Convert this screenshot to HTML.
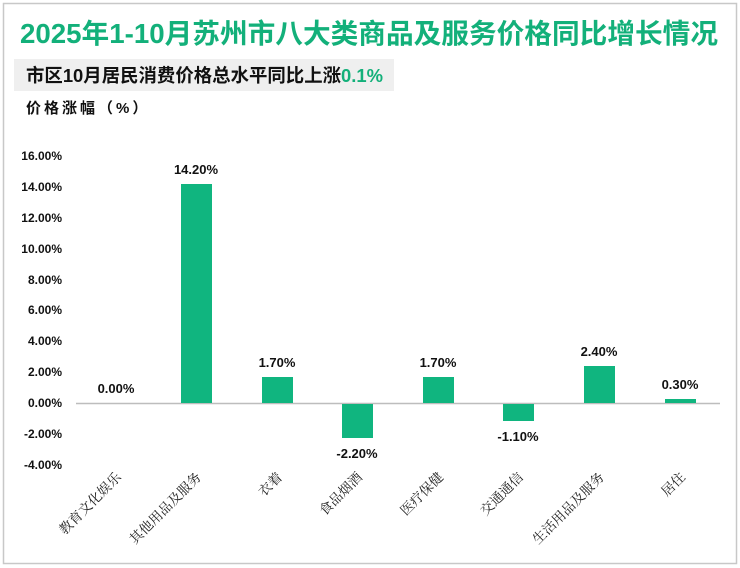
<!DOCTYPE html>
<html><head><meta charset="utf-8"><style>
body{margin:0;background:#fff;}
svg{display:block;font-family:"Liberation Sans","Noto Sans CJK SC",sans-serif;}
</style></head><body>
<svg width="740" height="568" viewBox="0 0 740 568">
<rect x="3.5" y="3.5" width="733" height="560" fill="#fff" stroke="#c8c8c8" stroke-width="1.5"/>
<text x="369" y="43" text-anchor="middle" font-size="27.5" font-weight="bold" fill="#13b07a" textLength="698" lengthAdjust="spacingAndGlyphs">2025年1-10月苏州市八大类商品及服务价格同比增长情况</text>
<rect x="14" y="59" width="380" height="32" fill="#efefef"/>
<text x="26" y="82" font-size="18.5" font-weight="bold" fill="#111" textLength="357" lengthAdjust="spacingAndGlyphs">市区10月居民消费价格总水平同比上涨<tspan fill="#13b07a">0.1%</tspan></text>
<text x="26" y="113" font-size="15" font-weight="bold" fill="#111" letter-spacing="3">价格涨幅（%）</text>
<g font-size="12" font-weight="bold" fill="#111" text-anchor="end">
<text x="62" y="160">16.00%</text>
<text x="62" y="191">14.00%</text>
<text x="62" y="222">12.00%</text>
<text x="62" y="253">10.00%</text>
<text x="62" y="284">8.00%</text>
<text x="62" y="314">6.00%</text>
<text x="62" y="345">4.00%</text>
<text x="62" y="376">2.00%</text>
<text x="62" y="407">0.00%</text>
<text x="62" y="438">-2.00%</text>
<text x="62" y="469">-4.00%</text>
</g>
<line x1="76" y1="403.5" x2="720" y2="403.5" stroke="#bdbdbd" stroke-width="1.5"/>
<g fill="#10b57f">
<rect x="181" y="184" width="31" height="219"/>
<rect x="262" y="377" width="31" height="26"/>
<rect x="342" y="404" width="31" height="34"/>
<rect x="423" y="377" width="31" height="26"/>
<rect x="503" y="404" width="31" height="17"/>
<rect x="584" y="366" width="31" height="37"/>
<rect x="665" y="399" width="31" height="4"/>
</g>
<g font-size="13" font-weight="bold" fill="#111" text-anchor="middle">
<text x="116" y="393">0.00%</text>
<text x="196" y="174">14.20%</text>
<text x="277" y="367">1.70%</text>
<text x="357" y="458">-2.20%</text>
<text x="438" y="367">1.70%</text>
<text x="518" y="441">-1.10%</text>
<text x="599" y="356">2.40%</text>
<text x="680" y="389">0.30%</text>
</g>
<g font-size="13.5" fill="#222" text-anchor="end" font-family="'Noto Serif CJK SC',serif">
<text transform="translate(122,478) rotate(-45)">教育文化娱乐</text>
<text transform="translate(202,478) rotate(-45)">其他用品及服务</text>
<text transform="translate(283,478) rotate(-45)">衣着</text>
<text transform="translate(363,478) rotate(-45)">食品烟酒</text>
<text transform="translate(444,478) rotate(-45)">医疗保健</text>
<text transform="translate(524,478) rotate(-45)">交通通信</text>
<text transform="translate(605,478) rotate(-45)">生活用品及服务</text>
<text transform="translate(686,478) rotate(-45)">居住</text>
</g>
</svg>
</body></html>
